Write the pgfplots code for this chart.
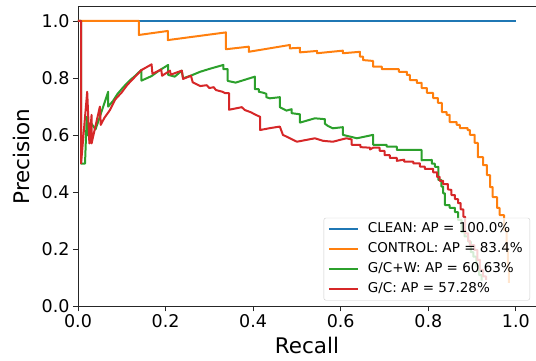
\documentclass[border=0pt]{standalone}
\usepackage{fontspec}
\setmainfont{DejaVu Sans}
\usepackage{pgfplots}
\pgfplotsset{compat=1.18}
\definecolor{tabblue}{HTML}{1F77B4}
\definecolor{taborange}{HTML}{FF7F0E}
\definecolor{tabgreen}{HTML}{2CA02C}
\definecolor{tabred}{HTML}{D62728}
\begin{document}
\begin{tikzpicture}
\path[use as bounding box] (-78pt,-53.6pt) rectangle (458pt,306.4pt);
\begin{axis}[
  at={(0pt,0pt)}, anchor=south west,
  scale only axis, width=458pt, height=299.7pt,
  xmin=0, xmax=1.046, ymin=0, ymax=1.05,
  enlargelimits=false, clip=false,
  axis lines=left, axis line style={-, black!85, line width=0.9pt},
  tick align=outside, major tick length=5pt,
  tick style={black!85, line width=0.9pt},
  xtick={0,0.2,0.4,0.6,0.8,1.0}, ytick={0,0.2,0.4,0.6,0.8,1.0},
  ticklabel style={font=\fontsize{17.5}{17.5}\selectfont},
  /pgf/number format/fixed, /pgf/number format/fixed zerofill,
  /pgf/number format/precision=1, /pgf/number format/assume math mode=true,
  xlabel={Recall}, ylabel={Precision},
  label style={font=\fontsize{21.5}{21.5}\selectfont},
  xlabel style={yshift=-2.5pt},
  ylabel style={yshift=5pt},
  legend cell align=left,
  legend image code/.code={\draw[#1] (0pt,0pt) -- (29pt,0pt);},
  legend style={at={(1,0)}, anchor=south east, xshift=-6pt, yshift=6pt,
    draw=black!20, rounded corners=2pt, fill=white, fill opacity=0.8,
    draw opacity=1, text opacity=1,
    font=\fontsize{13.5}{13.5}\selectfont,
    inner xsep=4pt, inner ysep=2pt, row sep=1pt, column sep=6pt,
    nodes={inner sep=3pt, text height=9.8pt, text depth=3pt}},
  every axis plot/.append style={line width=2pt, line join=round},
]
\addplot[tabblue] coordinates {(0,1) (1,1)};
\addlegendentry{CLEAN: AP = 100.0\%}
\addplot[taborange] table {
x y
0 1
0.139 1
0.139 0.951
0.205 0.965
0.205 0.933
0.338 0.960
0.338 0.901
0.390 0.910
0.390 0.892
0.484 0.916
0.484 0.904
0.507 0.906
0.507 0.890
0.546 0.895
0.546 0.887
0.605 0.896
0.605 0.887
0.644 0.892
0.644 0.875
0.651 0.875
0.651 0.863
0.674 0.860
0.674 0.840
0.694 0.840
0.694 0.831
0.733 0.831
0.733 0.822
0.751 0.822
0.751 0.811
0.758 0.811
0.758 0.793
0.774 0.793
0.774 0.783
0.785 0.783
0.785 0.765
0.797 0.765
0.797 0.748
0.811 0.748
0.811 0.730
0.822 0.730
0.822 0.713
0.831 0.713
0.831 0.681
0.842 0.681
0.842 0.671
0.849 0.671
0.849 0.646
0.865 0.646
0.865 0.636
0.872 0.636
0.872 0.625
0.890 0.625
0.890 0.618
0.895 0.618
0.895 0.601
0.906 0.601
0.906 0.573
0.913 0.573
0.913 0.523
0.925 0.523
0.925 0.495
0.934 0.495
0.934 0.460
0.941 0.460
0.941 0.418
0.947 0.418
0.947 0.383
0.957 0.383
0.957 0.345
0.963 0.345
0.963 0.320
0.973 0.320
0.973 0.268
0.979 0.268
0.979 0.198
0.982 0.198
0.982 0.138
0.984 0.138
0.984 0.082
};
\addlegendentry{CONTROL: AP = 83.4\%}
\addplot[tabgreen] table {
x y
0 1
0.007 1
0.007 0.500
0.016 0.500
0.020 0.665
0.022 0.600
0.031 0.640
0.040 0.620
0.050 0.665
0.069 0.752
0.069 0.700
0.080 0.720
0.090 0.744
0.100 0.762
0.110 0.779
0.120 0.794
0.130 0.807
0.145 0.829
0.145 0.791
0.168 0.807
0.187 0.828
0.206 0.846
0.206 0.811
0.221 0.805
0.237 0.826
0.240 0.799
0.260 0.810
0.279 0.822
0.300 0.832
0.332 0.846
0.332 0.831
0.342 0.831
0.342 0.790
0.360 0.784
0.404 0.805
0.404 0.761
0.413 0.761
0.413 0.752
0.422 0.749
0.430 0.745
0.430 0.733
0.438 0.729
0.461 0.733
0.461 0.698
0.476 0.686
0.488 0.691
0.488 0.677
0.507 0.673
0.507 0.644
0.541 0.659
0.564 0.656
0.564 0.640
0.571 0.632
0.582 0.624
0.605 0.628
0.605 0.601
0.637 0.589
0.674 0.601
0.674 0.566
0.705 0.566
0.705 0.560
0.728 0.560
0.728 0.548
0.762 0.548
0.785 0.548
0.785 0.512
0.808 0.513
0.808 0.500
0.815 0.500
0.815 0.489
0.823 0.489
0.823 0.443
0.830 0.443
0.830 0.420
0.834 0.420
0.834 0.396
0.838 0.396
0.838 0.355
0.849 0.355
0.849 0.345
0.861 0.345
0.861 0.330
0.868 0.330
0.868 0.303
0.876 0.303
0.876 0.260
0.883 0.260
0.883 0.245
0.891 0.245
0.891 0.227
0.897 0.227
0.897 0.190
0.903 0.190
0.903 0.174
0.910 0.174
0.910 0.140
0.916 0.140
0.916 0.110
0.922 0.110
0.922 0.090
};
\addlegendentry{G/C+W: AP = 60.63\%}
\addplot[tabred] table {
x y
0 1
0.007 1
0.007 0.501
0.021 0.752
0.026 0.571
0.031 0.671
0.031 0.571
0.050 0.700
0.052 0.636
0.060 0.660
0.073 0.688
0.085 0.725
0.100 0.750
0.112 0.775
0.123 0.793
0.135 0.812
0.145 0.828
0.168 0.848
0.170 0.815
0.190 0.830
0.192 0.808
0.210 0.826
0.212 0.812
0.237 0.826
0.240 0.797
0.258 0.808
0.262 0.785
0.279 0.772
0.294 0.775
0.300 0.765
0.310 0.768
0.315 0.758
0.330 0.752
0.336 0.747
0.345 0.747
0.345 0.689
0.374 0.698
0.381 0.688
0.395 0.680
0.405 0.672
0.416 0.664
0.416 0.618
0.440 0.625
0.461 0.630
0.468 0.601
0.480 0.592
0.500 0.577
0.541 0.589
0.560 0.580
0.582 0.577
0.613 0.589
0.625 0.585
0.625 0.566
0.645 0.566
0.645 0.558
0.667 0.556
0.667 0.550
0.674 0.556
0.689 0.556
0.689 0.545
0.700 0.545
0.700 0.530
0.712 0.530
0.712 0.520
0.728 0.520
0.728 0.510
0.745 0.514
0.745 0.507
0.766 0.507
0.766 0.501
0.781 0.501
0.781 0.490
0.792 0.490
0.792 0.482
0.811 0.482
0.811 0.470
0.820 0.470
0.820 0.454
0.826 0.454
0.826 0.440
0.834 0.440
0.834 0.428
0.845 0.428
0.845 0.410
0.853 0.408
0.853 0.390
0.861 0.390
0.861 0.376
0.868 0.376
0.868 0.362
0.874 0.362
0.874 0.340
0.880 0.340
0.880 0.314
0.884 0.314
0.884 0.256
0.891 0.256
0.891 0.230
0.895 0.230
0.895 0.215
0.905 0.215
0.905 0.198
0.912 0.198
0.912 0.163
0.918 0.163
0.918 0.128
0.925 0.128
0.925 0.105
0.932 0.105
0.932 0.093
};
\addlegendentry{G/C: AP = 57.28\%}
\draw[black!85, line width=0.9pt] (rel axis cs:0,1) -- (rel axis cs:1,1);
\end{axis}
\end{tikzpicture}
\end{document}
